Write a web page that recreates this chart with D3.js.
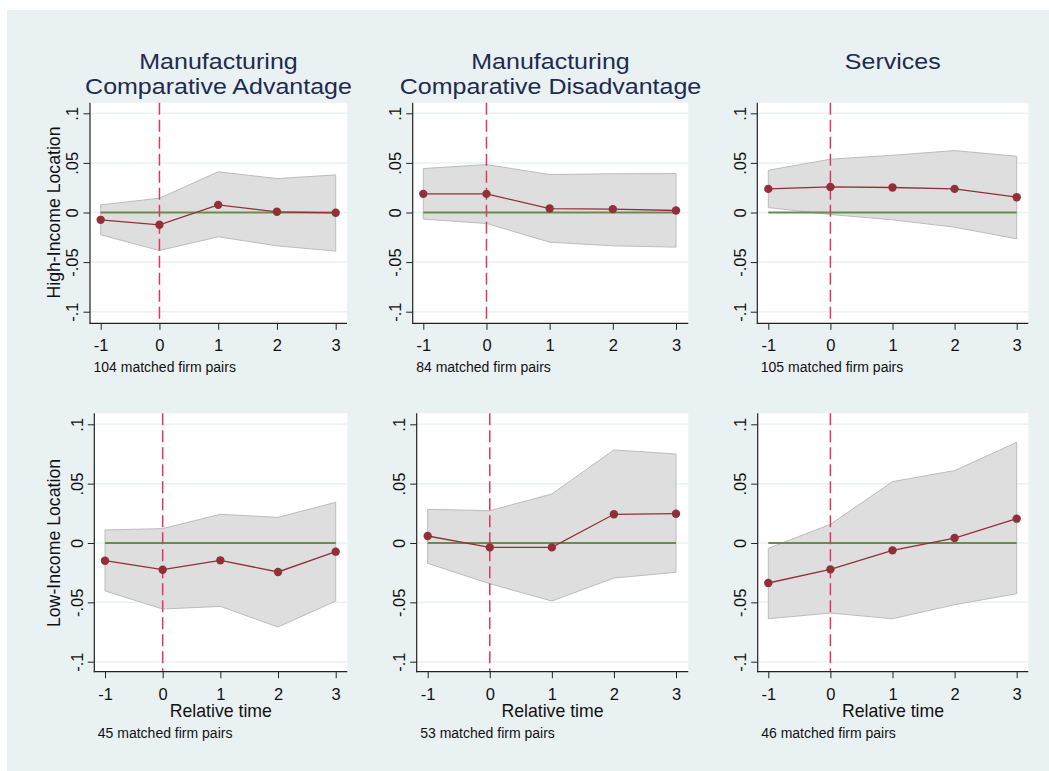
<!DOCTYPE html>
<html>
<head>
<meta charset="utf-8">
<script src="https://cdn.jsdelivr.net/npm/d3@7"></script>
<style>
  html, body { margin: 0; padding: 0; background: #ffffff; }
  svg { display: block; font-family: "Liberation Sans", Arial, sans-serif; }
</style>
</head>
<body>
<svg id="chart" width="1049" height="771"></svg>
<script>
// Event-study estimates by relative time, with 95% confidence bands
const relTime = [-1, 0, 1, 2, 3];
const sectorTitles = [
  ["Manufacturing", "Comparative Advantage"],
  ["Manufacturing", "Comparative Disadvantage"],
  ["Services"]
];
const locationTitles = ["High-Income Location", "Low-Income Location"];
const matchedPairs = [[104, 84, 105], [45, 53, 46]];
const yTicks = [-0.1, -0.05, 0, 0.05, 0.1];
const yTickLabels = ["-.1", "-.05", "0", ".05", ".1"];
const xTicks = [-1, 0, 1, 2, 3];
const xTickLabels = ["-1", "0", "1", "2", "3"];

// High-income location: [comp. advantage, comp. disadvantage, services]
const coefHigh = [
  [-0.0074, -0.0124, 0.0077, 0.0007, -0.0003],
  [0.0188, 0.0188, 0.0040, 0.0034, 0.0020],
  [0.0238, 0.0258, 0.0252, 0.0238, 0.0154]
];
const upperHigh = [
  [0.0077, 0.0144, 0.0410, 0.0342, 0.0379],
  [0.0443, 0.0483, 0.0383, 0.0390, 0.0393],
  [0.0426, 0.0537, 0.0577, 0.0624, 0.0567]
];
const lowerHigh = [
  [-0.0225, -0.0383, -0.0245, -0.0336, -0.0389],
  [-0.0067, -0.0110, -0.0299, -0.0336, -0.0349],
  [0.0050, -0.0020, -0.0074, -0.0148, -0.0265]
];

// Low-income location
const coefLow = [
  [-0.0149, -0.0225, -0.0146, -0.0244, -0.0073],
  [0.0059, -0.0037, -0.0037, 0.0242, 0.0247],
  [-0.0337, -0.0222, -0.0062, 0.0042, 0.0205]
];
const upperLow = [
  [0.0110, 0.0121, 0.0242, 0.0216, 0.0343],
  [0.0284, 0.0272, 0.0413, 0.0784, 0.0750],
  [-0.0045, 0.0157, 0.0517, 0.0610, 0.0848]
];
const lowerLow = [
  [-0.0404, -0.0556, -0.0534, -0.0708, -0.0489],
  [-0.0171, -0.0343, -0.0489, -0.0295, -0.0247],
  [-0.0638, -0.0590, -0.0638, -0.0520, -0.0427]
];

// Panel geometry (pixels)
const rowFrames = [
  { top: 102.7, bottom: 323.3, yHi: 113.3, yLo: 311.7, noteY: 371.7 },
  { top: 413.3, bottom: 671.7, yHi: 424.3, yLo: 661.7, noteY: 738.3 }
];
const colFrames = [
  [{ left: 90, right: 347, xa: 100.7, xb: 335.7 },
   { left: 412.7, right: 688.3, xa: 423.3, xb: 676 },
   { left: 757.3, right: 1028.3, xa: 768.3, xb: 1016.7 }],
  [{ left: 94.3, right: 347.3, xa: 105, xb: 335.7 },
   { left: 416.7, right: 688.3, xa: 427.7, xb: 676 },
   { left: 757.7, right: 1028.3, xa: 768.3, xb: 1016.7 }]
];

const C = {
  bg: "#eaf1f3",
  title: "#1d2b4f",
  grid: "#eaf1f3",
  axis: "#222222",
  band: "#dedede",
  bandEdge: "#bcbcbc",
  est: "#923039",
  zero: "#6b8a4e",
  event: "#d93a60"
};

const svg = d3.select("#chart");
svg.append("rect").attr("x", 7).attr("y", 10)
  .attr("width", 1049 - 7).attr("height", 771 - 10).attr("fill", C.bg);

const rows = [
  { coef: coefHigh, upper: upperHigh, lower: lowerHigh },
  { coef: coefLow, upper: upperLow, lower: lowerLow }
];

rows.forEach((row, r) => {
  const rf = rowFrames[r];
  for (let c = 0; c < 3; c++) {
    const cf = colFrames[r][c];
    const x = d3.scaleLinear().domain([-1, 3]).range([cf.xa, cf.xb]);
    const y = d3.scaleLinear().domain([-0.1, 0.1]).range([rf.yLo, rf.yHi]);
    const g = svg.append("g");

    // plot region
    g.append("rect").attr("x", cf.left).attr("y", rf.top)
      .attr("width", cf.right - cf.left).attr("height", rf.bottom - rf.top)
      .attr("fill", "#ffffff");

    // horizontal grid
    g.selectAll(".grid").data(yTicks).join("line")
      .attr("x1", cf.left).attr("x2", cf.right)
      .attr("y1", d => y(d)).attr("y2", d => y(d))
      .attr("stroke", C.grid).attr("stroke-width", 1.5);

    const pts = relTime.map((t, i) => ({
      t, b: row.coef[c][i], lo: row.lower[c][i], hi: row.upper[c][i]
    }));

    // confidence band
    g.append("path").datum(pts)
      .attr("d", d3.area().x(d => x(d.t)).y0(d => y(d.lo)).y1(d => y(d.hi)))
      .attr("fill", C.band).attr("stroke", C.bandEdge).attr("stroke-width", 1);

    // zero reference
    g.append("line")
      .attr("x1", x(-1)).attr("x2", x(3))
      .attr("y1", y(0)).attr("y2", y(0))
      .attr("stroke", C.zero).attr("stroke-width", 2);

    // event-time marker
    g.append("line")
      .attr("x1", x(0)).attr("x2", x(0))
      .attr("y1", rf.top).attr("y2", rf.bottom)
      .attr("stroke", C.event).attr("stroke-width", 1.5)
      .attr("stroke-dasharray", "12,5");

    // point estimates
    g.append("path").datum(pts)
      .attr("d", d3.line().x(d => x(d.t)).y(d => y(d.b)))
      .attr("fill", "none").attr("stroke", C.est).attr("stroke-width", 1.3);
    g.selectAll(".pt").data(pts).join("circle")
      .attr("cx", d => x(d.t)).attr("cy", d => y(d.b)).attr("r", 4.2)
      .attr("fill", C.est);

    // y axis
    const ya = g.append("g").attr("transform", `translate(${cf.left},0)`)
      .call(d3.axisLeft(y).tickValues(yTicks)
        .tickFormat((d, i) => yTickLabels[i]).tickSize(6.5).tickSizeOuter(0));
    ya.select(".domain").remove();
    ya.selectAll(".tick line").attr("stroke", C.axis);
    ya.selectAll(".tick text")
      .attr("transform", "rotate(-90)")
      .attr("x", 0).attr("y", -11.7).attr("dy", 0)
      .attr("text-anchor", "middle")
      .attr("font-size", 16.5).attr("fill", "#111")
      .attr("font-family", "'Liberation Sans', Arial, sans-serif");
    g.append("line").attr("x1", cf.left).attr("x2", cf.left)
      .attr("y1", rf.top).attr("y2", rf.bottom + 0.5)
      .attr("stroke", C.axis).attr("stroke-width", 1.2);

    // x axis
    const xa = g.append("g").attr("transform", `translate(0,${rf.bottom})`)
      .call(d3.axisBottom(x).tickValues(xTicks)
        .tickFormat((d, i) => xTickLabels[i]).tickSize(6.5).tickSizeOuter(0));
    xa.select(".domain").remove();
    xa.selectAll(".tick line").attr("stroke", C.axis);
    xa.selectAll(".tick text")
      .attr("y", 28).attr("dy", 0)
      .attr("font-size", 16.5).attr("fill", "#111")
      .attr("font-family", "'Liberation Sans', Arial, sans-serif");
    g.append("line").attr("x1", cf.left - 0.5).attr("x2", cf.right)
      .attr("y1", rf.bottom).attr("y2", rf.bottom)
      .attr("stroke", C.axis).attr("stroke-width", 1.2);

    // matched-pairs note
    g.append("text").attr("x", cf.left + 3.5).attr("y", rf.noteY)
      .attr("font-size", 14).attr("fill", "#111")
      .text(`${matchedPairs[r][c]} matched firm pairs`);

    // x-axis title on the bottom row
    if (r === 1) {
      g.append("text").attr("x", (cf.left + cf.right) / 2).attr("y", 716.7)
        .attr("text-anchor", "middle").attr("font-size", 17.7).attr("fill", "#111")
        .text("Relative time");
    }

    // row title on the first column
    if (c === 0) {
      g.append("text")
        .attr("transform", `translate(60,${y(0)}) rotate(-90)`)
        .attr("text-anchor", "middle").attr("font-size", 17.7).attr("fill", "#111")
        .text(locationTitles[r]);
    }

    // column titles: slightly wide lettering on tightly stacked lines
    if (r === 0) {
      const cx = (cf.left + cf.right) / 2;
      sectorTitles[c].forEach((line, li) => {
        const t = g.append("text").attr("x", cx).attr("y", 69 + li * 25)
          .attr("text-anchor", "middle").attr("font-size", 25).attr("fill", C.title)
          .text(line);
        const wide = t.node().getComputedTextLength();
        t.attr("font-size", 22.3)
          .attr("textLength", wide).attr("lengthAdjust", "spacingAndGlyphs");
      });
    }
  }
});
</script>
</body>
</html>
